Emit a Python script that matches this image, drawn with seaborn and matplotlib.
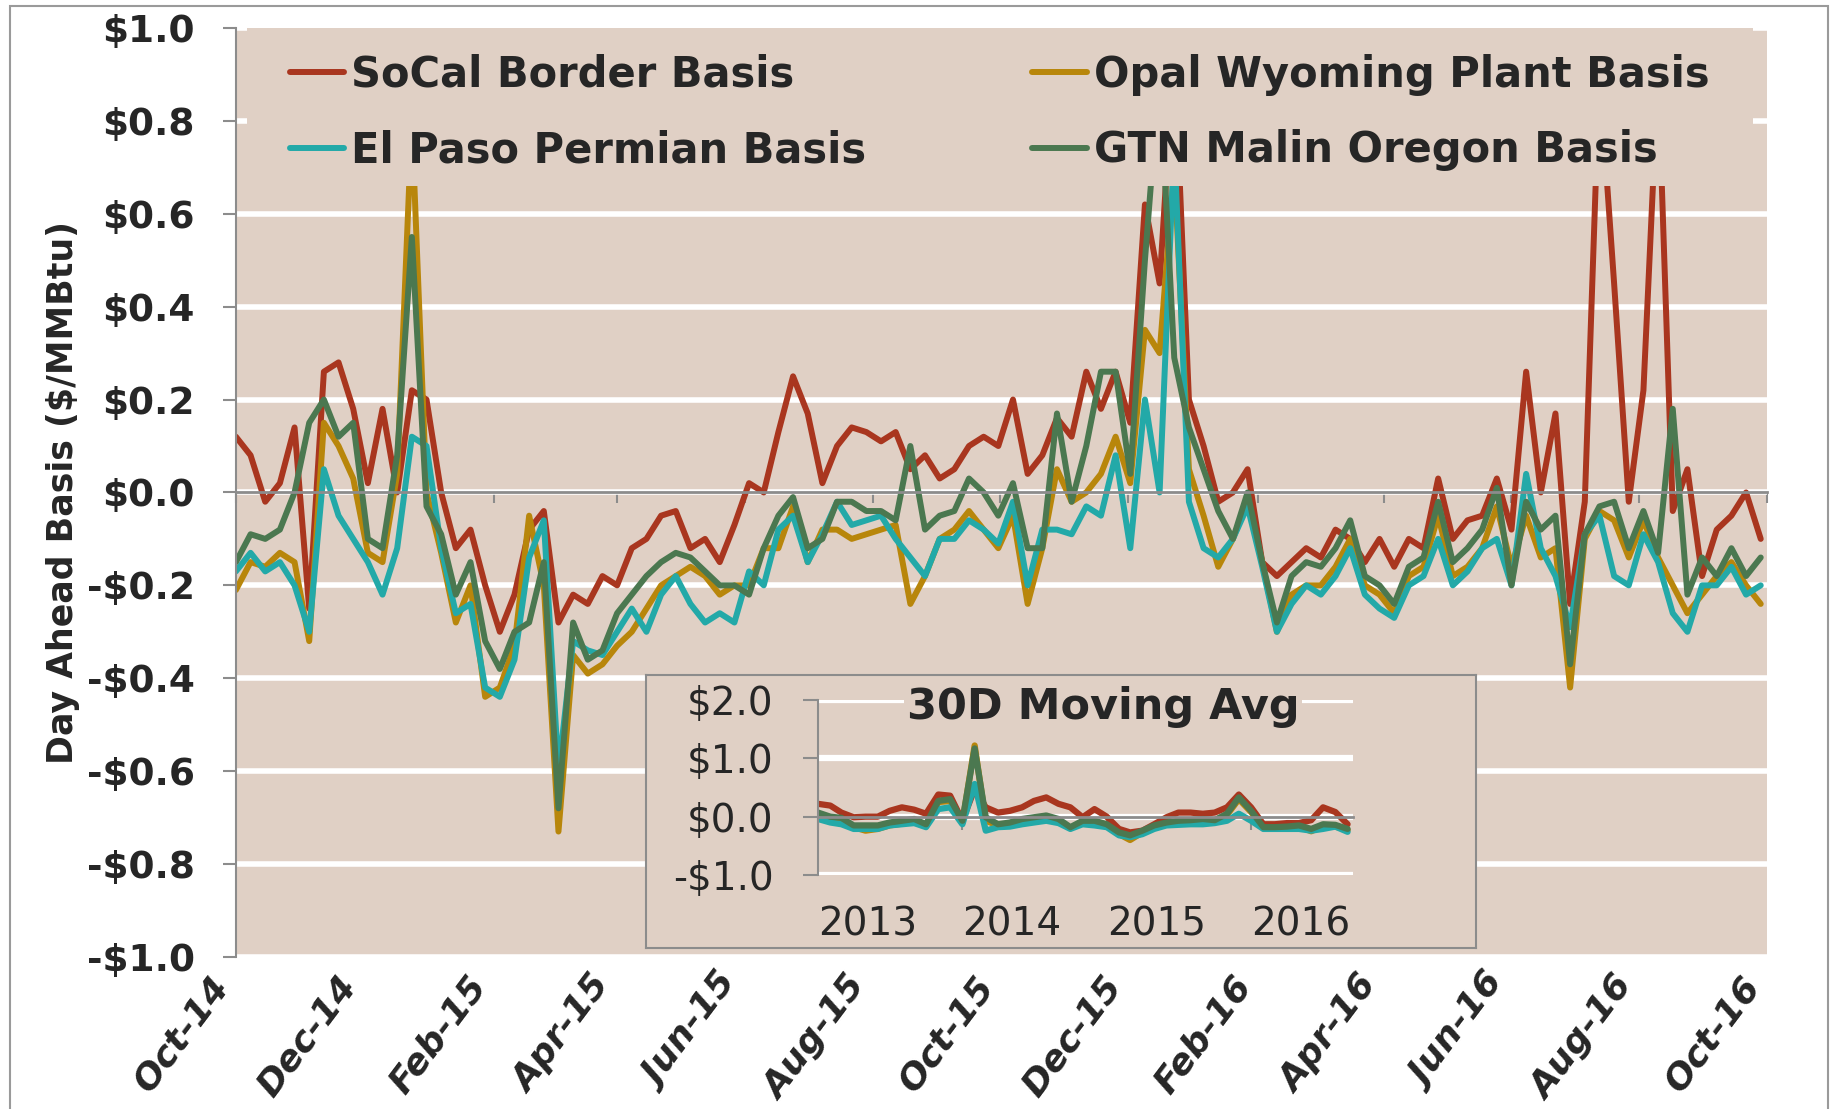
import numpy as np
import pandas as pd
import matplotlib
matplotlib.use("Agg")
import matplotlib.pyplot as plt
import matplotlib.dates as mdates
from matplotlib.patches import Rectangle
from matplotlib.ticker import FuncFormatter, MultipleLocator, NullFormatter
import seaborn as sns

sns.set_style("white")
plt.rcParams["font.family"] = ["DejaVu Sans"]
plt.rcParams["text.parse_math"] = False

BG = "#E0D0C5"
GRAY = "#8C8C8C"

series_names = ["SoCal Border Basis", "Opal Wyoming Plant Basis",
                "El Paso Permian Basis", "GTN Malin Oregon Basis"]
series_colors = ["#A9361F", "#B8860B", "#23A9A8", "#4B7850"]

# weekly day-ahead basis ($/MMBtu), Oct-14 .. Sep-16
week_start = "2014-10-01"
socal = [0.12, 0.08, -0.02, 0.02, 0.14, -0.25, 0.26, 0.28, 0.18, 0.02,
         0.18, 0.0, 0.22, 0.2, 0.0, -0.12, -0.08, -0.2, -0.3, -0.22,
         -0.08, -0.04, -0.28, -0.22, -0.24, -0.18, -0.2, -0.12, -0.1, -0.05,
         -0.04, -0.12, -0.1, -0.15, -0.07, 0.02, 0.0, 0.13, 0.25, 0.17,
         0.02, 0.1, 0.14, 0.13, 0.11, 0.13, 0.05, 0.08, 0.03, 0.05,
         0.1, 0.12, 0.1, 0.2, 0.04, 0.08, 0.16, 0.12, 0.26, 0.18,
         0.26, 0.15, 0.62, 0.45, 0.95, 0.2, 0.1, -0.02, 0.0, 0.05,
         -0.15, -0.18, -0.15, -0.12, -0.14, -0.08, -0.1, -0.15, -0.1, -0.16,
         -0.1, -0.12, 0.03, -0.1, -0.06, -0.05, 0.03, -0.08, 0.26, 0.0,
         0.17, -0.24, -0.02, 0.9, 0.45, -0.02, 0.22, 0.9, -0.04, 0.05,
         -0.18, -0.08, -0.05, 0.0, -0.1]
opal = [-0.21, -0.15, -0.16, -0.13, -0.15, -0.32, 0.15, 0.1, 0.03, -0.13,
        -0.15, 0.04, 0.8, 0.0, -0.13, -0.28, -0.2, -0.44, -0.42, -0.33,
        -0.05, -0.2, -0.73, -0.35, -0.39, -0.37, -0.33, -0.3, -0.25, -0.2,
        -0.18, -0.16, -0.18, -0.22, -0.2, -0.2, -0.12, -0.12, -0.03, -0.15,
        -0.08, -0.08, -0.1, -0.09, -0.08, -0.07, -0.24, -0.18, -0.1, -0.08,
        -0.04, -0.08, -0.12, -0.05, -0.24, -0.12, 0.05, -0.02, 0.0, 0.04,
        0.12, 0.02, 0.35, 0.3, 0.7, 0.05, -0.05, -0.16, -0.1, -0.02,
        -0.15, -0.3, -0.22, -0.2, -0.2, -0.16, -0.1, -0.2, -0.22, -0.26,
        -0.18, -0.16, -0.05, -0.18, -0.16, -0.12, -0.03, -0.16, -0.05, -0.14,
        -0.12, -0.42, -0.1, -0.04, -0.06, -0.14, -0.06, -0.14, -0.2, -0.26,
        -0.22, -0.18, -0.15, -0.2, -0.24]
elpaso = [-0.17, -0.13, -0.17, -0.15, -0.2, -0.3, 0.05, -0.05, -0.1, -0.15,
          -0.22, -0.12, 0.12, 0.1, -0.12, -0.26, -0.24, -0.42, -0.44, -0.36,
          -0.14, -0.06, -0.6, -0.32, -0.34, -0.35, -0.3, -0.25, -0.3, -0.22,
          -0.18, -0.24, -0.28, -0.26, -0.28, -0.17, -0.2, -0.08, -0.05, -0.15,
          -0.09, -0.02, -0.07, -0.06, -0.05, -0.1, -0.14, -0.18, -0.1, -0.1,
          -0.06, -0.08, -0.11, -0.02, -0.2, -0.08, -0.08, -0.09, -0.03, -0.05,
          0.08, -0.12, 0.2, 0.0, 0.75, -0.02, -0.12, -0.14, -0.1, -0.03,
          -0.16, -0.3, -0.24, -0.2, -0.22, -0.18, -0.12, -0.22, -0.25, -0.27,
          -0.2, -0.18, -0.1, -0.2, -0.17, -0.12, -0.1, -0.2, 0.04, -0.12,
          -0.18, -0.29, -0.09, -0.05, -0.18, -0.2, -0.09, -0.15, -0.26, -0.3,
          -0.2, -0.2, -0.16, -0.22, -0.2]
gtn = [-0.15, -0.09, -0.1, -0.08, 0.0, 0.15, 0.2, 0.12, 0.15, -0.1,
       -0.12, 0.08, 0.55, -0.03, -0.09, -0.22, -0.15, -0.32, -0.38, -0.3,
       -0.28, -0.15, -0.68, -0.28, -0.36, -0.34, -0.26, -0.22, -0.18, -0.15,
       -0.13, -0.14, -0.17, -0.2, -0.2, -0.22, -0.12, -0.05, -0.01, -0.12,
       -0.1, -0.02, -0.02, -0.04, -0.04, -0.06, 0.1, -0.08, -0.05, -0.04,
       0.03, 0.0, -0.05, 0.02, -0.12, -0.12, 0.17, -0.02, 0.1, 0.26,
       0.26, 0.04, 0.5, 0.9, 0.29, 0.14, 0.05, -0.04, -0.1, 0.0,
       -0.15, -0.28, -0.18, -0.15, -0.16, -0.12, -0.06, -0.18, -0.2, -0.24,
       -0.16, -0.14, -0.02, -0.15, -0.12, -0.08, 0.01, -0.2, -0.02, -0.08,
       -0.05, -0.37, -0.09, -0.03, -0.02, -0.12, -0.04, -0.13, 0.18, -0.22,
       -0.14, -0.18, -0.12, -0.18, -0.14]

# 30 day moving average, monthly, Jan 2013 .. Sep 2016
ma_start = "2013-01-01"
socal_ma = [0.22, 0.19, 0.07, -0.01, 0.0, 0.0, 0.1, 0.16, 0.12, 0.05,
            0.38, 0.36, -0.07, 0.48, 0.16, 0.07, 0.1, 0.16, 0.27, 0.33,
            0.22, 0.16, -0.01, 0.13, 0.0, -0.21, -0.27, -0.24, -0.13, -0.01,
            0.07, 0.07, 0.05, 0.07, 0.16, 0.38, 0.16, -0.13, -0.13, -0.11,
            -0.11, -0.06, 0.16, 0.08, -0.13]
opal_ma = [0.02, -0.05, -0.06, -0.18, -0.24, -0.21, -0.15, -0.12, -0.07, -0.16,
           0.25, 0.27, -0.1, 1.22, -0.07, -0.15, -0.12, -0.07, -0.04, -0.01,
           -0.07, -0.2, -0.09, -0.09, -0.15, -0.3, -0.4, -0.27, -0.18, -0.12,
           -0.09, -0.08, -0.06, -0.07, 0.03, 0.3, 0.08, -0.2, -0.2, -0.19,
           -0.17, -0.25, -0.16, -0.17, -0.23]
elpaso_ma = [-0.04, -0.1, -0.13, -0.21, -0.21, -0.21, -0.15, -0.13, -0.11, -0.18,
             0.13, 0.16, -0.13, 0.56, -0.24, -0.18, -0.17, -0.13, -0.1, -0.07,
             -0.11, -0.21, -0.13, -0.15, -0.18, -0.32, -0.35, -0.3, -0.21, -0.15,
             -0.14, -0.13, -0.13, -0.11, -0.07, 0.05, -0.07, -0.21, -0.21, -0.21,
             -0.21, -0.24, -0.21, -0.17, -0.26]
gtn_ma = [0.07, 0.0, -0.02, -0.15, -0.15, -0.15, -0.1, -0.07, -0.04, -0.13,
          0.27, 0.3, -0.07, 1.17, -0.01, -0.13, -0.1, -0.04, -0.01, 0.02,
          -0.04, -0.18, -0.07, -0.07, -0.13, -0.27, -0.32, -0.24, -0.15, -0.1,
          -0.07, -0.06, -0.04, -0.06, 0.05, 0.33, 0.1, -0.18, -0.18, -0.17,
          -0.15, -0.21, -0.13, -0.14, -0.21]


def long_frame(start, freq, columns):
    dates = pd.date_range(start, periods=len(columns[0]), freq=freq)
    parts = []
    for name, vals in zip(series_names, columns):
        parts.append(pd.DataFrame({"date": dates, "value": vals, "series": name}))
    return pd.concat(parts, ignore_index=True)


def money(v, pos):
    if v < -1e-9:
        return f"-${abs(v):.1f}"
    return f"${abs(v):.1f}"


df = long_frame(week_start, "7D", [socal, opal, elpaso, gtn])
df_ma = long_frame(ma_start, "MS", [socal_ma, opal_ma, elpaso_ma, gtn_ma])
palette = dict(zip(series_names, series_colors))

fig = plt.figure(figsize=(18.33, 11.09), dpi=100)
fig.patch.set_facecolor("white")

# ---- main chart
ax = fig.add_axes([0.1287, 0.1371, 0.8353, 0.8377])
ax.set_facecolor(BG)
sns.lineplot(data=df, x="date", y="value", hue="series", hue_order=series_names,
             palette=palette, estimator=None, linewidth=4.3, ax=ax)

ax.set_xlim(pd.Timestamp("2014-10-01"), pd.Timestamp("2016-10-01"))
ax.set_ylim(-1.0, 1.0)
ax.yaxis.set_major_locator(MultipleLocator(0.2))
ax.yaxis.set_major_formatter(FuncFormatter(money))
ax.set_axisbelow(True)
ax.yaxis.grid(True, color="white", linewidth=4)
ax.xaxis.grid(False)

for side in ["top", "right"]:
    ax.spines[side].set_visible(False)
ax.spines["left"].set_color(GRAY)
ax.spines["left"].set_linewidth(1.5)
ax.spines["bottom"].set_position(("data", 0))
ax.spines["bottom"].set_color(GRAY)
ax.spines["bottom"].set_linewidth(2)

ax.xaxis.set_major_locator(mdates.MonthLocator(bymonth=range(2, 13, 2)))
ax.xaxis.set_major_formatter(NullFormatter())
ax.tick_params(axis="x", direction="out", length=8, width=1.5, color=GRAY,
               labelbottom=False, bottom=True)
ax.tick_params(axis="y", direction="out", length=9.5, width=1.5, color=GRAY,
               pad=20, labelsize=27, left=True)
plt.setp(ax.get_yticklabels(), fontweight="bold")
ax.set_xlabel("")
ax.set_ylabel("Day Ahead Basis ($/MMBtu)", fontsize=25, fontweight="bold")
ax.yaxis.set_label_coords(-0.102, 0.5)

# date labels sit at the bottom edge, not on the zero line
sec = ax.secondary_xaxis(0.0)
sec.xaxis.set_major_locator(mdates.MonthLocator(bymonth=range(2, 13, 2)))
sec.xaxis.set_major_formatter(mdates.DateFormatter("%b-%y"))
sec.tick_params(length=0, pad=9, labelsize=26, labelrotation=53)
for s in sec.spines.values():
    s.set_visible(False)
plt.setp(sec.get_xticklabels(), ha="right", va="top",
         fontweight="bold", fontstyle="italic")

# legend sits on an opaque band that hides the top of the chart
ax.add_patch(Rectangle((0.007, 0.83), 0.984, 0.17, transform=ax.transAxes,
                       facecolor=BG, edgecolor="none", zorder=3))
handles, labels = ax.get_legend_handles_labels()
lookup = dict(zip(labels, handles))
order = [series_names[0], series_names[2], series_names[1], series_names[3]]
ax.legend([lookup[n] for n in order], order, ncol=2, mode="expand",
          loc="upper left", bbox_to_anchor=(0.0353, 0.795, 0.927, 0.177),
          frameon=False, borderpad=0, borderaxespad=0,
          handlelength=1.3, handletextpad=0.17, labelspacing=0.8,
          prop={"size": 30, "weight": "bold"})

# ---- inset: 30 day moving average
ax_box = fig.add_axes([0.3524, 0.1452, 0.4528, 0.2462])
ax_box.set_facecolor(BG)
ax_box.set_xticks([])
ax_box.set_yticks([])
for s in ax_box.spines.values():
    s.set_color(GRAY)
    s.set_linewidth(1.5)

ax_in = fig.add_axes([0.4463, 0.2110, 0.2919, 0.1578])
ax_in.set_facecolor(BG)
sns.lineplot(data=df_ma, x="date", y="value", hue="series", hue_order=series_names,
             palette=palette, estimator=None, linewidth=4.5, legend=False, ax=ax_in)
ax_in.set_xlim(pd.Timestamp("2013-01-01"), pd.Timestamp("2016-09-15"))
ax_in.set_ylim(-1.0, 2.0)
ax_in.yaxis.set_major_locator(MultipleLocator(1.0))
ax_in.yaxis.set_major_formatter(FuncFormatter(money))
ax_in.set_axisbelow(True)
ax_in.yaxis.grid(True, color="white", linewidth=4.5)
ax_in.xaxis.grid(False)
for side in ["top", "right"]:
    ax_in.spines[side].set_visible(False)
ax_in.spines["left"].set_color(GRAY)
ax_in.spines["left"].set_linewidth(1.5)
ax_in.spines["bottom"].set_position(("data", 0))
ax_in.spines["bottom"].set_color(GRAY)
ax_in.spines["bottom"].set_linewidth(2)
ax_in.xaxis.set_major_locator(mdates.YearLocator())
ax_in.xaxis.set_major_formatter(NullFormatter())
ax_in.tick_params(axis="x", direction="out", length=9, width=1.5, color=GRAY,
                  labelbottom=False, bottom=True)
ax_in.tick_params(axis="y", direction="out", length=11, width=1.5, color=GRAY,
                  pad=21, labelsize=28, left=True)
ax_in.set_xlabel("")
ax_in.set_ylabel("")

sec_in = ax_in.secondary_xaxis(0.0)
sec_in.xaxis.set_major_locator(mdates.YearLocator())
sec_in.xaxis.set_major_formatter(mdates.DateFormatter("%Y"))
sec_in.tick_params(length=0, pad=22, labelsize=28)
for s in sec_in.spines.values():
    s.set_visible(False)
plt.setp(sec_in.get_xticklabels(), ha="left")

ax_in.text(0.533, 0.96, "30D Moving Avg", transform=ax_in.transAxes,
           ha="center", va="center", fontsize=31, fontweight="bold",
           bbox=dict(facecolor=BG, edgecolor="none", pad=2), zorder=5)

# thin outer frame around the whole picture
fig.add_artist(Rectangle((0.0055, -0.01), 0.9918, 1.0046, transform=fig.transFigure,
                         fill=False, edgecolor="#9A9A9A", linewidth=1.5))

fig.savefig("out.png", dpi=100, facecolor="white")
